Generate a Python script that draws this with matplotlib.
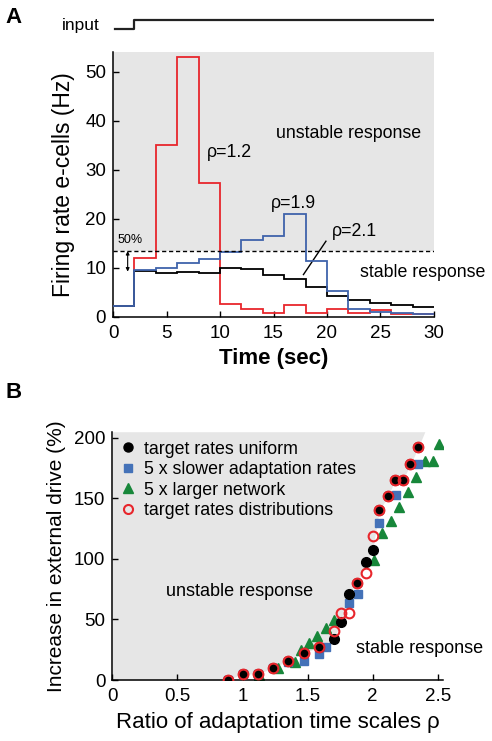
import matplotlib
matplotlib.use("Agg")
import matplotlib.pyplot as plt
from matplotlib.lines import Line2D

plt.rcParams['font.family'] = ['Liberation Sans', 'DejaVu Sans']
plt.rcParams['axes.linewidth'] = 1.1

# ---------------- Panel A data ----------------
time_edges = [0, 2, 4, 6, 8, 10, 12, 14, 16, 18, 20, 22, 24, 26, 28, 30]
rate_rho12 = [2.2, 12.0, 35.0, 53.0, 27.2, 2.5, 1.6, 0.7, 2.4, 0.7, 1.6, 0.7, 1.4, 0.5, 0.5]
rate_rho19 = [2.2, 9.5, 10.0, 10.9, 11.8, 13.3, 15.7, 16.5, 20.9, 11.4, 5.2, 1.5, 1.0, 0.7, 0.6]
rate_rho21 = [2.2, 9.3, 9.0, 9.2, 9.0, 10.0, 9.7, 8.6, 7.7, 6.0, 4.2, 3.4, 2.8, 2.3, 1.9]
threshold_A = 13.5
input_times = [0.2, 2.0, 30.0]
input_level = [0, 1, 1]

# ---------------- Panel B data ----------------
rho_uniform = [0.885, 1.0, 1.115, 1.235, 1.35, 1.47, 1.59, 1.70, 1.76, 1.82, 1.88, 1.95, 2.0, 2.05, 2.12, 2.17, 2.23, 2.29, 2.35]
drive_uniform = [0, 5, 5, 10, 16, 22, 27.5, 34, 48, 71, 80, 97.5, 107.5, 140, 152, 165, 165, 178, 192]

rho_slow = [0.885, 1.0, 1.115, 1.235, 1.35, 1.47, 1.59, 1.64, 1.82, 1.89, 2.05, 2.18, 2.35]
drive_slow = [0, 5, 5, 10, 15, 15.6, 21.4, 27.4, 63.7, 70.8, 129.6, 152.4, 178.5]

rho_large = [0.885, 1.13, 1.27, 1.40, 1.45, 1.51, 1.57, 1.64, 1.70, 2.01, 2.07, 2.14, 2.20, 2.27, 2.33, 2.40, 2.46, 2.51]
drive_large = [0, 4.5, 10, 15, 24.7, 30.2, 36.2, 42.6, 49.4, 99.4, 121, 131, 143, 155, 167.5, 181, 181, 195]

rho_dist = [0.885, 1.0, 1.115, 1.235, 1.35, 1.47, 1.59, 1.70, 1.755, 1.82, 1.88, 1.95, 2.0, 2.05, 2.12, 2.17, 2.23, 2.29, 2.35]
drive_dist = [0, 5, 5, 10, 16, 22, 27.5, 40.5, 55, 55, 80, 88.5, 118.5, 140, 152, 165, 165, 178, 192]

legend_labels = ["target rates uniform", "5 x slower adaptation rates",
                 "5 x larger network", "target rates distributions"]

GRAY = '#e6e6e6'
RED = '#e8262c'
BLUE = '#3f63ab'
SQBLUE = '#4472b8'
GREEN = '#17873a'

fig = plt.figure(figsize=(4.92, 7.41), dpi=100)

# ---------------- Panel A ----------------
axA = fig.add_axes([0.2297, 0.5726, 0.6524, 0.3572])
axA.axhspan(threshold_A, 54, xmin=0, xmax=1, color=GRAY, lw=0, zorder=0)
axA.stairs(rate_rho12, time_edges, baseline=None, color=RED, lw=1.3, zorder=2)
axA.stairs(rate_rho21, time_edges, baseline=None, color='black', lw=1.3, zorder=3)
axA.stairs(rate_rho19, time_edges, baseline=None, color=BLUE, lw=1.3, zorder=4)
axA.axhline(threshold_A, color='black', lw=1.0, ls=(0, (3, 2)), zorder=5)
axA.set_xlim(0, 30)
axA.set_ylim(0, 54)
axA.set_xticks([0, 5, 10, 15, 20, 25, 30])
axA.set_yticks([0, 10, 20, 30, 40, 50])
for s in ['top', 'right']:
    axA.spines[s].set_visible(False)
axA.tick_params(direction='in', length=4, width=1.0, labelsize=13.5)
axA.tick_params(axis='x', pad=6)
axA.tick_params(axis='y', pad=5)
axA.set_xlabel("Time (sec)", fontsize=16, fontweight='bold', labelpad=4)
axA.set_ylabel("Firing rate e-cells (Hz)", fontsize=16.5, labelpad=7)

axA.text(22.0, 37.4, "unstable response", fontsize=12.8, ha='center', va='center')
axA.text(23.1, 9.0, "stable response", fontsize=12.8, ha='left', va='center')
axA.text(8.8, 33.5, "ρ=1.2", fontsize=12.8, ha='left', va='center')
axA.text(14.8, 23.1, "ρ=1.9", fontsize=12.8, ha='left', va='center')
axA.text(20.5, 17.3, "ρ=2.1", fontsize=12.8, ha='left', va='center')
axA.plot([17.8, 19.9], [8.6, 15.4], color='black', lw=1.0)
axA.text(0.45, 15.6, "50%", fontsize=9, ha='left', va='center')
axA.annotate("", xy=(1.37, 9.2), xytext=(1.37, 13.4),
             arrowprops=dict(arrowstyle='<|-|>', color='black', lw=0.8,
                             mutation_scale=5, shrinkA=0, shrinkB=0))

# input trace
axI = fig.add_axes([0.2297, 0.9528, 0.6524, 0.027])
axI.plot(input_times, input_level, drawstyle='steps-post', color='#222222', lw=1.6)
axI.set_xlim(0, 30)
axI.set_ylim(-0.6, 1.55)
axI.axis('off')
fig.text(0.203, 0.966, "input", fontsize=12.5, ha='right', va='center')

# ---------------- Panel B ----------------
axB = fig.add_axes([0.2283, 0.0823, 0.6722, 0.3351])
ytop = 205
fill_y = [0] + drive_uniform + [ytop]
fill_x = [rho_uniform[0]] + rho_uniform + [rho_uniform[-1] + 0.05]
axB.fill_betweenx(fill_y, 0, fill_x, color=GRAY, lw=0, zorder=0)
axB.plot(rho_large, drive_large, ls='none', marker='^', ms=7, color=GREEN, mec=GREEN, zorder=2)
axB.plot(rho_slow, drive_slow, ls='none', marker='s', ms=5.8, color=SQBLUE, mec=SQBLUE, zorder=3)
axB.plot(rho_uniform, drive_uniform, ls='none', marker='o', ms=7, color='black', mec='black', zorder=4)
axB.plot(rho_dist, drive_dist, ls='none', marker='o', ms=7, mfc='none', mec=RED, mew=1.5, zorder=5)

axB.set_xlim(0, 2.54)
axB.set_ylim(0, ytop)
axB.set_xticks([0, 0.5, 1, 1.5, 2, 2.5])
axB.set_xticklabels(["0", "0.5", "1", "1.5", "2", "2.5"])
axB.set_yticks([0, 50, 100, 150, 200])
for s in ['top', 'right']:
    axB.spines[s].set_visible(False)
axB.tick_params(direction='in', length=4, width=1.0, labelsize=13.5)
axB.tick_params(axis='x', pad=6)
axB.tick_params(axis='y', pad=5)
axB.set_xlabel("Ratio of adaptation time scales ρ", fontsize=16, labelpad=5)
axB.set_ylabel("Increase in external drive (%)", fontsize=15, labelpad=6)
axB.text(0.41, 72.7, "unstable response", fontsize=13, ha='left', va='center')
axB.text(1.874, 26, "stable response", fontsize=13, ha='left', va='center')

handles = [
    Line2D([], [], ls='none', marker='o', ms=6.5, color='black'),
    Line2D([], [], ls='none', marker='s', ms=5.5, color=SQBLUE),
    Line2D([], [], ls='none', marker='^', ms=6.5, color=GREEN),
    Line2D([], [], ls='none', marker='o', ms=6.5, mfc='none', mec=RED, mew=1.5),
]
axB.legend(handles, legend_labels, loc='upper left', bbox_to_anchor=(0.0, 1.0),
           frameon=False, fontsize=12.8, handlelength=0.8, handletextpad=0.5,
           labelspacing=0.2, borderaxespad=0.3, borderpad=0.2)

fig.text(0.012, 0.977, "A", fontsize=16, fontweight='bold', ha='left', va='center')
fig.text(0.012, 0.47, "B", fontsize=16, fontweight='bold', ha='left', va='center')

fig.savefig("out.png", dpi=100)
